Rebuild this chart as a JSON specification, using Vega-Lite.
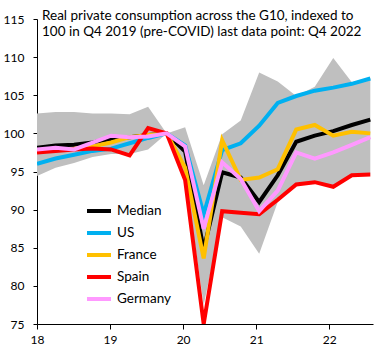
{
  "$schema": "https://vega.github.io/schema/vega-lite/v6.json",
  "width": 336,
  "height": 305,
  "autosize": "none",
  "padding": {"left": 37, "top": 19, "right": 12, "bottom": 36},
  "background": "white",
  "config": {
    "view": {"stroke": null},
    "font": "Lato",
    "axis": {"labelOverlap": false, "grid": false, "domainColor": "black", "tickColor": "black", "labelColor": "black", "labelFont": "Lato", "title": null},
    "legend": {"padding": 0}
  },
  "title": {
    "text": ["Real private consumption across the G10, indexed to", "100  in Q4 2019  (pre-COVID) last data point: Q4 2022"],
    "anchor": "start",
    "frame": "group",
    "orient": "top",
    "baseline": "top",
    "offset": -25,
    "dx": 5,
    "font": "Lato",
    "fontSize": 13.5,
    "fontWeight": "normal",
    "lineHeight": 16,
    "color": "black"
  },
  "datasets": {
    "band": [
      {"q": 18.000, "lo": 94.4, "hi": 102.6},
      {"q": 18.254, "lo": 95.5, "hi": 102.8},
      {"q": 18.507, "lo": 96.1, "hi": 102.8},
      {"q": 18.761, "lo": 96.9, "hi": 102.6},
      {"q": 19.014, "lo": 97.3, "hi": 102.6},
      {"q": 19.268, "lo": 97.3, "hi": 102.5},
      {"q": 19.521, "lo": 97.9, "hi": 103.5},
      {"q": 19.775, "lo": 100.0, "hi": 100.0},
      {"q": 20.028, "lo": 94.5, "hi": 100.8},
      {"q": 20.282, "lo": 77.5, "hi": 93.2},
      {"q": 20.535, "lo": 89.0, "hi": 99.9},
      {"q": 20.789, "lo": 87.8, "hi": 101.7},
      {"q": 21.042, "lo": 84.2, "hi": 108.0},
      {"q": 21.296, "lo": 91.0, "hi": 106.8},
      {"q": 21.549, "lo": 93.3, "hi": 104.9},
      {"q": 21.803, "lo": 93.6, "hi": 106.1},
      {"q": 22.056, "lo": 93.0, "hi": 109.9},
      {"q": 22.310, "lo": 94.5, "hi": 106.7},
      {"q": 22.563, "lo": 94.6, "hi": 107.3}
    ],
    "lines": [
      {"q": 18.000, "s": "Median", "v": 98.1},
      {"q": 18.254, "s": "Median", "v": 98.4},
      {"q": 18.507, "s": "Median", "v": 98.5},
      {"q": 18.761, "s": "Median", "v": 98.8},
      {"q": 19.014, "s": "Median", "v": 99.3},
      {"q": 19.268, "s": "Median", "v": 99.5},
      {"q": 19.521, "s": "Median", "v": 99.8},
      {"q": 19.775, "s": "Median", "v": 100.0},
      {"q": 20.028, "s": "Median", "v": 97.6},
      {"q": 20.282, "s": "Median", "v": 84.8},
      {"q": 20.535, "s": "Median", "v": 94.9},
      {"q": 20.789, "s": "Median", "v": 94.2},
      {"q": 21.042, "s": "Median", "v": 91.0},
      {"q": 21.296, "s": "Median", "v": 94.5},
      {"q": 21.549, "s": "Median", "v": 98.9},
      {"q": 21.803, "s": "Median", "v": 99.7},
      {"q": 22.056, "s": "Median", "v": 100.3},
      {"q": 22.310, "s": "Median", "v": 101.1},
      {"q": 22.563, "s": "Median", "v": 101.8},

      {"q": 18.000, "s": "US", "v": 96.0},
      {"q": 18.254, "s": "US", "v": 96.7},
      {"q": 18.507, "s": "US", "v": 97.2},
      {"q": 18.761, "s": "US", "v": 97.7},
      {"q": 19.014, "s": "US", "v": 98.0},
      {"q": 19.268, "s": "US", "v": 98.7},
      {"q": 19.521, "s": "US", "v": 99.4},
      {"q": 19.775, "s": "US", "v": 100.0},
      {"q": 20.028, "s": "US", "v": 98.4},
      {"q": 20.282, "s": "US", "v": 89.4},
      {"q": 20.535, "s": "US", "v": 97.8},
      {"q": 20.789, "s": "US", "v": 98.7},
      {"q": 21.042, "s": "US", "v": 101.0},
      {"q": 21.296, "s": "US", "v": 104.0},
      {"q": 21.549, "s": "US", "v": 104.9},
      {"q": 21.803, "s": "US", "v": 105.6},
      {"q": 22.056, "s": "US", "v": 106.0},
      {"q": 22.310, "s": "US", "v": 106.5},
      {"q": 22.563, "s": "US", "v": 107.2},

      {"q": 18.000, "s": "France", "v": 97.6},
      {"q": 18.254, "s": "France", "v": 97.8},
      {"q": 18.507, "s": "France", "v": 98.0},
      {"q": 18.761, "s": "France", "v": 98.3},
      {"q": 19.014, "s": "France", "v": 98.8},
      {"q": 19.268, "s": "France", "v": 99.5},
      {"q": 19.521, "s": "France", "v": 99.8},
      {"q": 19.775, "s": "France", "v": 100.0},
      {"q": 20.028, "s": "France", "v": 95.5},
      {"q": 20.282, "s": "France", "v": 83.6},
      {"q": 20.535, "s": "France", "v": 99.1},
      {"q": 20.789, "s": "France", "v": 93.9},
      {"q": 21.042, "s": "France", "v": 94.2},
      {"q": 21.296, "s": "France", "v": 95.3},
      {"q": 21.549, "s": "France", "v": 100.5},
      {"q": 21.803, "s": "France", "v": 101.1},
      {"q": 22.056, "s": "France", "v": 99.7},
      {"q": 22.310, "s": "France", "v": 100.2},
      {"q": 22.563, "s": "France", "v": 100.0},

      {"q": 18.000, "s": "Spain", "v": 97.5},
      {"q": 18.254, "s": "Spain", "v": 97.7},
      {"q": 18.507, "s": "Spain", "v": 97.9},
      {"q": 18.761, "s": "Spain", "v": 98.0},
      {"q": 19.014, "s": "Spain", "v": 97.9},
      {"q": 19.268, "s": "Spain", "v": 97.1},
      {"q": 19.521, "s": "Spain", "v": 100.7},
      {"q": 19.775, "s": "Spain", "v": 100.0},
      {"q": 20.028, "s": "Spain", "v": 93.9},
      {"q": 20.282, "s": "Spain", "v": 75.0},
      {"q": 20.535, "s": "Spain", "v": 89.8},
      {"q": 20.789, "s": "Spain", "v": 89.6},
      {"q": 21.042, "s": "Spain", "v": 89.4},
      {"q": 21.296, "s": "Spain", "v": 91.3},
      {"q": 21.549, "s": "Spain", "v": 93.3},
      {"q": 21.803, "s": "Spain", "v": 93.6},
      {"q": 22.056, "s": "Spain", "v": 93.0},
      {"q": 22.310, "s": "Spain", "v": 94.5},
      {"q": 22.563, "s": "Spain", "v": 94.6},

      {"q": 18.000, "s": "Germany", "v": 97.9},
      {"q": 18.254, "s": "Germany", "v": 98.1},
      {"q": 18.507, "s": "Germany", "v": 97.9},
      {"q": 18.761, "s": "Germany", "v": 98.8},
      {"q": 19.014, "s": "Germany", "v": 99.7},
      {"q": 19.268, "s": "Germany", "v": 99.5},
      {"q": 19.521, "s": "Germany", "v": 99.6},
      {"q": 19.775, "s": "Germany", "v": 100.0},
      {"q": 20.028, "s": "Germany", "v": 98.3},
      {"q": 20.282, "s": "Germany", "v": 87.5},
      {"q": 20.535, "s": "Germany", "v": 96.2},
      {"q": 20.789, "s": "Germany", "v": 94.0},
      {"q": 21.042, "s": "Germany", "v": 89.8},
      {"q": 21.296, "s": "Germany", "v": 92.5},
      {"q": 21.549, "s": "Germany", "v": 97.5},
      {"q": 21.803, "s": "Germany", "v": 96.7},
      {"q": 22.056, "s": "Germany", "v": 97.5},
      {"q": 22.310, "s": "Germany", "v": 98.5},
      {"q": 22.563, "s": "Germany", "v": 99.5}
    ]
  },
  "encoding": {
    "x": {
      "field": "q", "type": "quantitative",
      "scale": {"domain": [18, 22.6], "nice": false, "zero": false},
      "axis": {
        "values": [18, 19, 20, 21, 22], "format": "d",
        "tickSize": 5, "labelPadding": 5, "labelFlush": false, "labelOverlap": false, "labelFontSize": 12
      }
    }
  },
  "layer": [
    {
      "data": {"name": "band"},
      "mark": {"type": "area", "color": "#BFBFBF", "opacity": 1},
      "encoding": {
        "y": {
          "field": "hi", "type": "quantitative",
          "scale": {"domain": [75, 115], "nice": false, "zero": false},
          "axis": {
            "tickCount": 8, "format": "d",
            "tickSize": 4, "labelPadding": 9, "labelFlush": false, "labelFontSize": 12,
            "labelOverlap": false, "labelBound": false
          }
        },
        "y2": {"field": "lo"}
      }
    },
    {
      "data": {"name": "lines"},
      "mark": {"type": "line", "strokeWidth": 4, "strokeJoin": "miter", "strokeCap": "butt", "clip": true},
      "encoding": {
        "y": {
          "field": "v", "type": "quantitative",
          "axis": {
            "tickCount": 8, "format": "d",
            "tickSize": 4, "labelPadding": 9, "labelFlush": false, "labelFontSize": 12,
            "labelOverlap": false, "labelBound": false
          }
        },
        "color": {
          "field": "s", "type": "nominal", "sort": null,
          "scale": {
            "domain": ["Median", "US", "France", "Spain", "Germany"],
            "range": ["#000000", "#00B0F0", "#FFC000", "#FF0000", "#FF99FF"]
          },
          "legend": {
            "title": null, "orient": "none", "legendX": 48, "legendY": 178,
            "symbolType": "stroke", "symbolStrokeWidth": 4, "symbolSize": 576,
            "labelFontSize": 13.5, "labelFont": "Lato", "labelColor": "black",
            "labelOffset": 4, "rowPadding": 0
          }
        }
      }
    }
  ]
}
